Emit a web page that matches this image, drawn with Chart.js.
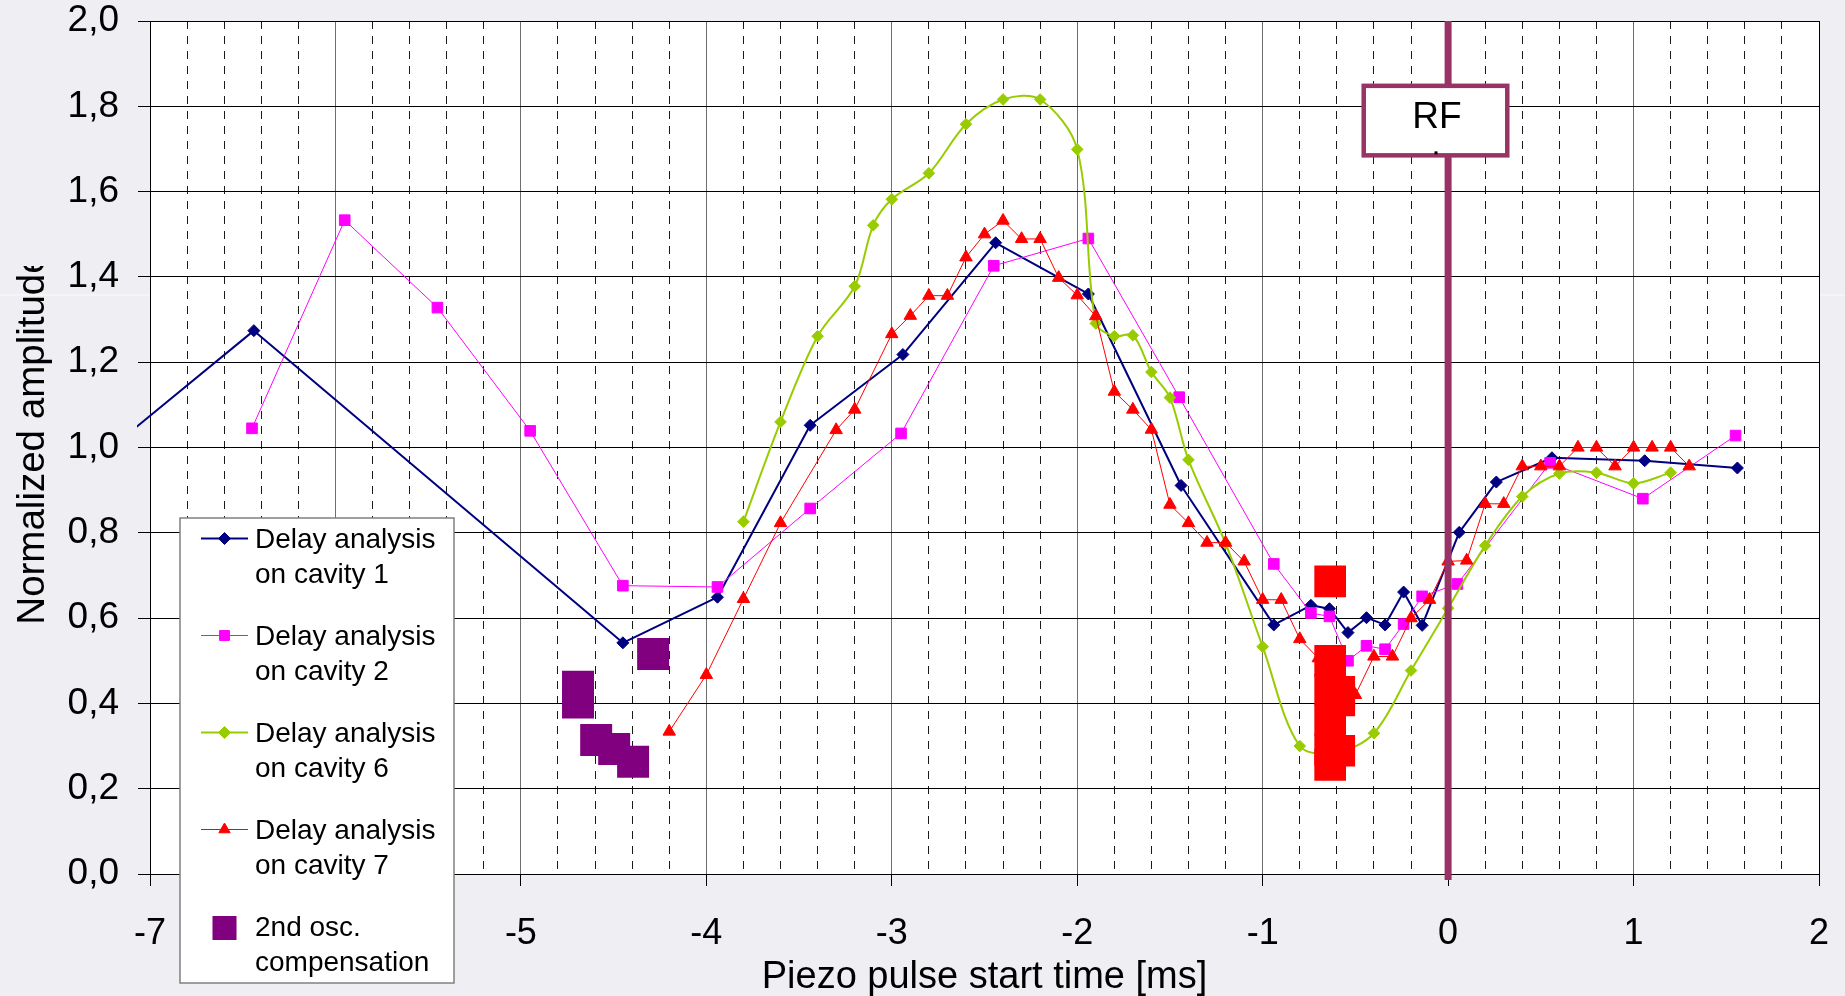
<!DOCTYPE html>
<html>
<head>
<meta charset="utf-8">
<title>Piezo pulse timing scan</title>
<script src="https://cdn.jsdelivr.net/npm/chart.js@4.4.1/dist/chart.umd.min.js"></script>
<style>
  html, body { margin: 0; padding: 0; background: #EEEEF3; overflow: hidden; }
  canvas { display: block; }
</style>
</head>
<body>
<canvas id="chart" width="1845" height="996"></canvas>
<script>
// ---- measured data -------------------------------------------------------
// Piezo pulse start time [ms] and normalized amplitude for each cavity.

// cavity 1 (first sample lies just left of the visible time range)
const cav1Time = [-7.6, -6.44, -4.45, -3.94, -3.44, -2.94, -2.44, -1.94, -1.44, -0.94, -0.74, -0.64,
                  -0.54, -0.44, -0.34, -0.24, -0.14, 0.06, 0.26, 0.56, 1.06, 1.56];
const cav1Amp  = [0.86, 1.274, 0.542, 0.649, 1.052, 1.218, 1.480, 1.360, 0.911, 0.584, 0.630, 0.622,
                  0.566, 0.601, 0.584, 0.661, 0.583, 0.801, 0.919, 0.976, 0.969, 0.952];

// cavity 2
const cav2Time = [-6.45, -5.95, -5.45, -4.95, -4.45, -3.94, -3.44, -2.95, -2.45, -1.94, -1.45, -0.94,
                  -0.74, -0.64, -0.54, -0.44, -0.34, -0.24, -0.14, 0.05, 0.55, 1.05, 1.55];
const cav2Amp  = [1.045, 1.533, 1.328, 1.039, 0.676, 0.673, 0.857, 1.033, 1.426, 1.490, 1.118, 0.727,
                  0.612, 0.604, 0.500, 0.535, 0.527, 0.586, 0.651, 0.680, 0.964, 0.880, 1.028];

// cavity 6
const cav6Time = [-3.8, -3.6, -3.4, -3.2, -3.1, -3.0, -2.8, -2.6, -2.4, -2.2, -2.0, -1.9, -1.8, -1.7,
                  -1.6, -1.5, -1.4, -1.2, -1.0, -0.8, -0.6, -0.4, -0.2, 0.0, 0.2, 0.4, 0.6, 0.8, 1.0, 1.2];
const cav6Amp  = [0.826, 1.060, 1.261, 1.378, 1.521, 1.582, 1.643, 1.758, 1.816, 1.816, 1.699, 1.291, 1.261, 1.263,
                  1.177, 1.117, 0.971, 0.775, 0.533, 0.300, 0.285, 0.330, 0.477, 0.623, 0.770, 0.885, 0.939, 0.941, 0.916, 0.941];

// cavity 7
const cav7Time = [-4.2, -4.0, -3.8, -3.6, -3.3, -3.2, -3.0, -2.9, -2.8, -2.7, -2.6, -2.5, -2.4, -2.3, -2.2,
                  -2.1, -2.0, -1.9, -1.8, -1.7, -1.6, -1.5, -1.4, -1.3, -1.2, -1.1, -1.0, -0.9, -0.8, -0.7,
                  -0.6, -0.5, -0.4, -0.3, -0.2, -0.1, 0.0, 0.1, 0.2, 0.3, 0.4, 0.5, 0.6, 0.7, 0.8, 0.9,
                  1.0, 1.1, 1.2, 1.3];
const cav7Amp  = [0.334, 0.467, 0.645, 0.823, 1.041, 1.089, 1.266, 1.309, 1.356, 1.356, 1.446, 1.500, 1.532, 1.489, 1.489,
                  1.398, 1.357, 1.308, 1.131, 1.089, 1.042, 0.866, 0.823, 0.777, 0.777, 0.733, 0.643, 0.643, 0.551, 0.506,
                  0.500, 0.420, 0.510, 0.510, 0.600, 0.643, 0.733, 0.735, 0.868, 0.868, 0.956, 0.956, 0.956, 1.000, 1.000, 0.956,
                  1.000, 1.000, 1.000, 0.956];

// 2nd oscillation compensation
const compTime = [-4.692, -4.692, -4.287, -4.594, -4.497, -4.395];
const compAmp  = [0.439, 0.402, 0.516, 0.314, 0.293, 0.263];

// 2nd oscillation compensation, cavity 7 window
const comp7Time = [-0.636, -0.636, -0.636, -0.636, -0.636, -0.636, -0.587, -0.587, -0.587];
const comp7Amp  = [0.686, 0.500, 0.432, 0.361, 0.291, 0.256, 0.427, 0.407, 0.289];

// axis ticks
const xTicks = [-7, -6, -5, -4, -3, -2, -1, 0, 1, 2];
const yTicks = [0, 0.2, 0.4, 0.6, 0.8, 1.0, 1.2, 1.4, 1.6, 1.8, 2.0];

// RF start marker
const rfTime = 0;
const rfLabel = 'RF';

// ---- styling ---------------------------------------------------------------
const FONT = '"Liberation Sans", Arial, Helvetica, sans-serif';
const RF_BOX = { x0: -0.455, x1: 0.319, y0: 1.685, y1: 1.848 };
const LEG = { x: 180, y: 518, w: 274, h: 465, lineX0: 201, lineX1: 248, markX: 224.5,
              textX: 255, firstBaseline: 548, step: 97, lineGap: 34.5 };

const pts = (xs, ys) => xs.map((x, i) => ({ x, y: ys[i] }));

// keep the plot frame where the layout puts it: no extra room for overhanging labels
function fixSize(prop, size) {
  return s => {
    s[prop] = size;
    s.paddingTop = s.paddingBottom = s.paddingLeft = s.paddingRight = 0;
  };
}

// ---- plugins -----------------------------------------------------------------
const frame = {
  id: 'frame',
  beforeDraw(chart) {
    const { ctx, chartArea: a, width, height } = chart;
    ctx.save();
    ctx.fillStyle = '#EEEEF3';
    ctx.fillRect(0, 0, width, height);
    ctx.fillStyle = '#FBFBFD';
    ctx.fillRect(0, 294.5, a.left, 1);
    ctx.fillRect(a.right, 294.5, width - a.right, 1);
    ctx.fillStyle = '#FFFFFF';
    ctx.fillRect(a.left, a.top, a.right - a.left, a.bottom - a.top);
    ctx.restore();
  }
};

const rfMarker = {
  id: 'rfMarker',
  afterDatasetsDraw(chart) {
    const { ctx, chartArea: a, scales: { x, y } } = chart;
    const px = x.getPixelForValue(rfTime);
    ctx.save();
    ctx.strokeStyle = '#993366';
    ctx.lineWidth = 7;
    ctx.beginPath();
    ctx.moveTo(px, a.top);
    ctx.lineTo(px, a.bottom + 6);
    ctx.stroke();

    const bx0 = x.getPixelForValue(RF_BOX.x0), bx1 = x.getPixelForValue(RF_BOX.x1);
    const by0 = y.getPixelForValue(RF_BOX.y1), by1 = y.getPixelForValue(RF_BOX.y0);
    ctx.fillStyle = '#FFFFFF';
    ctx.fillRect(bx0, by0, bx1 - bx0, by1 - by0);
    ctx.lineWidth = 4.5;
    ctx.strokeRect(bx0, by0, bx1 - bx0, by1 - by0);
    ctx.fillStyle = '#000000';
    ctx.font = '37px ' + FONT;
    ctx.textAlign = 'center';
    ctx.textBaseline = 'alphabetic';
    const cx = (bx0 + bx1) / 2;
    ctx.fillText(rfLabel, cx + 1.5, by0 + 42);
    ctx.fillRect(cx - 1, by1 - 4, 3, 3);
    ctx.restore();
  }
};

const axisTitles = {
  id: 'axisTitles',
  afterDraw(chart) {
    const { ctx, chartArea: a, height } = chart;
    ctx.save();
    ctx.fillStyle = '#000000';
    ctx.font = '38px ' + FONT;
    ctx.textAlign = 'center';
    ctx.textBaseline = 'alphabetic';
    ctx.fillText('Piezo pulse start time [ms]', (a.left + a.right) / 2, 988);

    ctx.beginPath();
    ctx.rect(0, 266, a.left, height - 266);
    ctx.clip();
    ctx.translate(44, 438.5);
    ctx.rotate(-Math.PI / 2);
    ctx.font = '38.5px ' + FONT;
    ctx.fillText('Normalized amplitude', 0, 0);
    ctx.restore();
  }
};

function drawMarker(ctx, ds, x, y, radius) {
  ctx.fillStyle = ds.pointBackgroundColor || ds.backgroundColor;
  ctx.strokeStyle = ds.pointBorderColor || ds.borderColor;
  ctx.lineWidth = ds.pointBorderWidth || 0;
  const opts = { pointStyle: ds.pointStyle, rotation: 0, radius, borderWidth: ds.pointBorderWidth || 0 };
  Chart.helpers.drawPoint(ctx, opts, x, y);
}

const legendItems = [0, 1, 2, 3, 4];
const legendBox = {
  id: 'legendBox',
  afterDraw(chart) {
    const ctx = chart.ctx;
    ctx.save();
    ctx.fillStyle = '#FFFFFF';
    ctx.fillRect(LEG.x, LEG.y, LEG.w, LEG.h);
    ctx.strokeStyle = '#808080';
    ctx.lineWidth = 1.5;
    ctx.strokeRect(LEG.x, LEG.y, LEG.w, LEG.h);
    legendItems.forEach((di, k) => {
      const ds = chart.data.datasets[di];
      const base = LEG.firstBaseline + k * LEG.step;
      const cy = base - 9.5;
      if (ds.showLine !== false) {
        ctx.strokeStyle = ds.borderColor;
        ctx.lineWidth = ds.borderWidth;
        ctx.beginPath();
        ctx.moveTo(LEG.lineX0, cy);
        ctx.lineTo(LEG.lineX1, cy);
        ctx.stroke();
        drawMarker(ctx, ds, LEG.markX, cy, ds.legendRadius);
      } else {
        drawMarker(ctx, ds, LEG.markX, cy + 1.5, ds.legendRadius);
      }
      ctx.fillStyle = '#000000';
      ctx.font = '28px ' + FONT;
      ctx.textAlign = 'left';
      ctx.textBaseline = 'alphabetic';
      ds.label.split('\n').forEach((t, j) => ctx.fillText(t, LEG.textX, base + j * LEG.lineGap));
    });
    ctx.restore();
  }
};

// ---- chart -------------------------------------------------------------------
new Chart(document.getElementById('chart'), {
  type: 'line',
  data: {
    datasets: [
      {
        label: 'Delay analysis\non cavity 1',
        data: pts(cav1Time, cav1Amp),
        borderColor: '#000080', backgroundColor: '#000080',
        borderWidth: 2, borderJoinStyle: 'round',
        pointStyle: 'rectRot', pointBorderWidth: 1, legendRadius: 6,
        pointRadius: c => (c.raw && c.raw.x < -7 ? 0 : 6),
        clip: { left: 13, top: 0, right: 0, bottom: 0 },
        order: 6
      },
      {
        label: 'Delay analysis\non cavity 2',
        data: pts(cav2Time, cav2Amp),
        borderColor: '#FF00FF', backgroundColor: '#FF00FF',
        borderWidth: 1, borderJoinStyle: 'round',
        pointStyle: 'rect', pointRadius: 7.5, pointBorderWidth: 1, legendRadius: 7,
        order: 5
      },
      {
        label: 'Delay analysis\non cavity 6',
        data: pts(cav6Time, cav6Amp),
        borderColor: '#99CC00', backgroundColor: '#99CC00',
        borderWidth: 2, borderJoinStyle: 'round', tension: 0.33,
        pointStyle: 'rectRot', pointRadius: 5.8, pointBorderWidth: 1, legendRadius: 6,
        order: 4
      },
      {
        label: 'Delay analysis\non cavity 7',
        data: pts(cav7Time, cav7Amp),
        borderColor: '#FF0000', backgroundColor: '#FF0000',
        borderWidth: 1, borderJoinStyle: 'round',
        pointStyle: 'triangle', pointRadius: 7.2, pointBorderWidth: 1, legendRadius: 6.5,
        order: 3
      },
      {
        label: '2nd osc.\ncompensation',
        data: pts(compTime, compAmp),
        showLine: false,
        borderColor: '#800080', backgroundColor: '#800080',
        pointStyle: 'rect', pointRadius: 22.6, pointBorderWidth: 0, legendRadius: 17,
        order: 2
      },
      {
        label: '2nd osc. compensation, cavity 7',
        data: pts(comp7Time, comp7Amp),
        showLine: false,
        borderColor: '#FF0000', backgroundColor: '#FF0000',
        pointStyle: 'rect', pointRadius: 22.4, pointBorderWidth: 0, legendRadius: 17,
        order: 1
      }
    ]
  },
  options: {
    responsive: false,
    animation: false,
    events: [],
    layout: { autoPadding: false, padding: { left: 0, right: 26, top: 21, bottom: 0 } },
    plugins: { legend: { display: false }, tooltip: { enabled: false } },
    scales: {
      x: {
        type: 'linear', position: 'bottom',
        min: xTicks[0], max: xTicks[xTicks.length - 1],
        afterFit: fixSize('height', 122),
        afterBuildTicks(s) { s.ticks = xTicks.map(v => ({ value: v })); },
        ticks: {
          autoSkip: false, maxRotation: 0, color: '#000000', padding: 26,
          font: { family: FONT, size: 36 },
          callback: v => String(v)
        },
        grid: {
          color: c => (c.tick && c.tick.value === xTicks[xTicks.length - 1] ? '#000000' : '#6E6E6E'),
          lineWidth: 1, tickLength: 12, tickColor: '#000000', tickWidth: 1
        },
        border: { color: '#000000', width: 1 }
      },
      xMinor: {
        type: 'linear', position: 'bottom',
        min: xTicks[0], max: xTicks[xTicks.length - 1],
        afterFit: fixSize('height', 0),
        afterBuildTicks(s) {
          const t = [];
          for (let i = 0; i < xTicks.length - 1; i++) {
            for (let j = 1; j < 5; j++) t.push({ value: xTicks[i] + j * 0.2 });
          }
          s.ticks = t;
        },
        ticks: { display: false },
        grid: { color: '#1A1A1A', lineWidth: 1, drawTicks: false },
        border: { display: false, dash: [8, 7] }
      },
      y: {
        type: 'linear', position: 'left',
        min: yTicks[0], max: yTicks[yTicks.length - 1],
        afterFit: fixSize('width', 150),
        afterBuildTicks(s) { s.ticks = yTicks.map(v => ({ value: v })); },
        ticks: {
          autoSkip: false, color: '#000000', padding: 19,
          font: { family: FONT, size: 37 },
          callback: v => v.toFixed(1).replace('.', ',')
        },
        grid: { color: '#000000', lineWidth: 1, tickLength: 12, tickColor: '#000000', tickWidth: 1 },
        border: { color: '#000000', width: 1 }
      }
    }
  },
  plugins: [frame, rfMarker, axisTitles, legendBox]
});
</script>
</body>
</html>
